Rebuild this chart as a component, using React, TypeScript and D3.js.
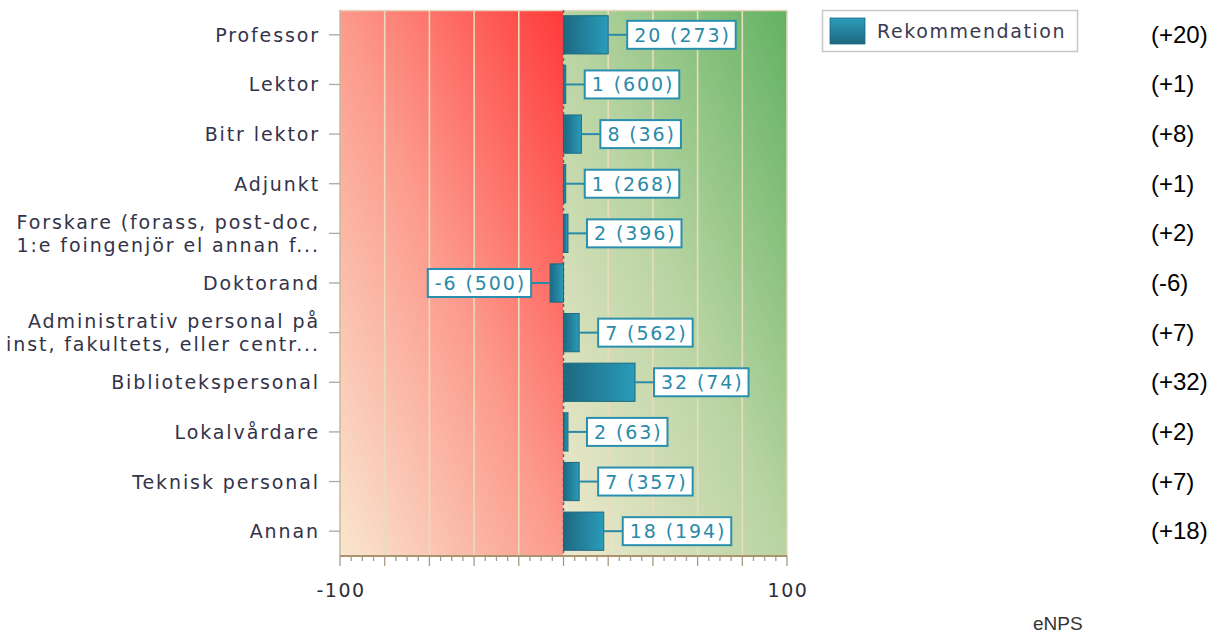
import React, { useEffect, useRef } from "react";
import * as d3 from "d3";

const categories = [
  "Professor",
  "Lektor",
  "Bitr lektor",
  "Adjunkt",
  "Forskare (forass, post-doc,|1:e foingenjör el annan f...",
  "Doktorand",
  "Administrativ personal på|inst, fakultets, eller centr...",
  "Bibliotekspersonal",
  "Lokalvårdare",
  "Teknisk personal",
  "Annan",
];
const values = [20, 1, 8, 1, 2, -6, 7, 32, 2, 7, 18];
const counts = [273, 600, 36, 268, 396, 500, 562, 74, 63, 357, 194];
const sideLabels = ["(+20)", "(+1)", "(+8)", "(+1)", "(+2)", "(-6)", "(+7)", "(+32)", "(+2)", "(+7)", "(+18)"];
const xTickLabels = [-100, 100];
const seriesName = "Rekommendation";
const axisTitle = "eNPS";

const W = 1216;
const H = 635;

export default function App() {
  const ref = useRef<SVGSVGElement>(null);

  useEffect(() => {
    const svg = d3.select(ref.current);
    svg.selectAll("*").remove();

    const x = d3.scaleLinear().domain([-100, 100]).range([340, 787]);
    const y = d3
      .scaleBand<string>()
      .domain(categories)
      .range([10, 556])
      .paddingInner(0.23)
      .paddingOuter(0.115);

    const defs = svg.append("defs");
    const gRed = defs
      .append("linearGradient")
      .attr("id", "gRed")
      .attr("x1", 0)
      .attr("y1", 1)
      .attr("x2", 1)
      .attr("y2", 0);
    gRed.append("stop").attr("offset", 0).attr("stop-color", "#f9e6d0");
    gRed.append("stop").attr("offset", 0.5).attr("stop-color", "#fc9a8c");
    gRed.append("stop").attr("offset", 1).attr("stop-color", "#ff3a3a");

    const gGreen = defs
      .append("linearGradient")
      .attr("id", "gGreen")
      .attr("x1", 0)
      .attr("y1", 1)
      .attr("x2", 1)
      .attr("y2", 0);
    gGreen.append("stop").attr("offset", 0).attr("stop-color", "#efe9ce");
    gGreen.append("stop").attr("offset", 0.5).attr("stop-color", "#b8d4a2");
    gGreen.append("stop").attr("offset", 1).attr("stop-color", "#62b262");

    const gBar = defs
      .append("linearGradient")
      .attr("id", "gBar")
      .attr("x1", 0)
      .attr("y1", 0)
      .attr("x2", 1)
      .attr("y2", 0);
    gBar.append("stop").attr("offset", 0).attr("stop-color", "#1e6880");
    gBar.append("stop").attr("offset", 1).attr("stop-color", "#2a9cba");

    const gLeg = defs
      .append("linearGradient")
      .attr("id", "gLeg")
      .attr("x1", 0)
      .attr("y1", 0)
      .attr("x2", 0)
      .attr("y2", 1);
    gLeg.append("stop").attr("offset", 0).attr("stop-color", "#2a9cba");
    gLeg.append("stop").attr("offset", 1).attr("stop-color", "#1e6880");

    const top = 10;
    const bottom = 556;

    svg
      .append("rect")
      .attr("x", x(-100))
      .attr("y", top)
      .attr("width", x(0) - x(-100))
      .attr("height", bottom - top)
      .attr("fill", "url(#gRed)");
    svg
      .append("rect")
      .attr("x", x(0))
      .attr("y", top)
      .attr("width", x(100) - x(0))
      .attr("height", bottom - top)
      .attr("fill", "url(#gGreen)");

    const majors = d3.range(-80, 100, 20).filter((d) => d !== 0);
    svg
      .append("g")
      .selectAll("line")
      .data(majors)
      .join("line")
      .attr("x1", (d) => x(d))
      .attr("x2", (d) => x(d))
      .attr("y1", top)
      .attr("y2", bottom)
      .attr("stroke", "#e9dcbc")
      .attr("stroke-width", 1.6);

    svg
      .append("line")
      .attr("x1", x(-100))
      .attr("x2", x(100))
      .attr("y1", top + 0.5)
      .attr("y2", top + 0.5)
      .attr("stroke", "#e6d8bc")
      .attr("stroke-width", 1.5);
    svg
      .append("line")
      .attr("x1", x(100))
      .attr("x2", x(100))
      .attr("y1", top)
      .attr("y2", bottom)
      .attr("stroke", "#e6d8bc")
      .attr("stroke-width", 1.5);
    svg
      .append("line")
      .attr("x1", x(-100))
      .attr("x2", x(-100))
      .attr("y1", top)
      .attr("y2", bottom)
      .attr("stroke", "#c8b898")
      .attr("stroke-width", 1.5);

    svg
      .append("line")
      .attr("x1", x(0))
      .attr("x2", x(0))
      .attr("y1", top)
      .attr("y2", bottom)
      .attr("stroke", "#4e6c7c")
      .attr("stroke-width", 1.5)
      .attr("stroke-dasharray", "3,3");

    const minorTicks = d3.range(-100, 101, 5);
    svg
      .append("g")
      .selectAll("line")
      .data(minorTicks)
      .join("line")
      .attr("x1", (d) => x(d))
      .attr("x2", (d) => x(d))
      .attr("y1", bottom)
      .attr("y2", (d) => (d % 20 === 0 ? bottom + 10 : bottom + 5))
      .attr("stroke", "#a89a86")
      .attr("stroke-width", 1.3);
    svg
      .append("line")
      .attr("x1", x(-100))
      .attr("x2", x(100))
      .attr("y1", bottom)
      .attr("y2", bottom)
      .attr("stroke", "#a8946e")
      .attr("stroke-width", 2);

    svg
      .append("g")
      .selectAll("text")
      .data(xTickLabels)
      .join("text")
      .attr("x", (d) => x(d) + 1)
      .attr("y", 597)
      .attr("text-anchor", "middle")
      .attr("font-family", "DejaVu Sans")
      .attr("font-size", 19)
      .attr("letter-spacing", 1.5)
      .attr("fill", "#2e2e3a")
      .text((d) => String(d));

    svg
      .append("g")
      .selectAll("line")
      .data(categories)
      .join("line")
      .attr("x1", 329)
      .attr("x2", x(-100))
      .attr("y1", (d) => y(d)! + y.bandwidth() / 2)
      .attr("y2", (d) => y(d)! + y.bandwidth() / 2)
      .attr("stroke", "#a8a8a8")
      .attr("stroke-width", 1.3);

    const ylab = svg.append("g");
    categories.forEach((c) => {
      const lines = c.split("|");
      const cy = y(c)! + y.bandwidth() / 2;
      lines.forEach((ln, i) => {
        const off = lines.length === 1 ? 0 : (i - 0.5) * 23;
        ylab
          .append("text")
          .attr("x", 320)
          .attr("y", cy + off + 7)
          .attr("text-anchor", "end")
          .attr("font-family", "DejaVu Sans")
          .attr("font-size", 19)
          .attr("letter-spacing", 1.9)
          .attr("fill", "#33334a")
          .text(ln);
      });
    });

    const data = categories.map((c, i) => ({ c, v: values[i], n: counts[i], s: sideLabels[i] }));
    svg
      .append("g")
      .selectAll("rect")
      .data(data)
      .join("rect")
      .attr("x", (d) => Math.min(x(0), x(d.v)))
      .attr("y", (d) => y(d.c)!)
      .attr("width", (d) => Math.max(2, Math.abs(x(d.v) - x(0))))
      .attr("height", y.bandwidth())
      .attr("fill", "url(#gBar)")
      .attr("stroke", "#1c6a80")
      .attr("stroke-width", 1);

    const lab = svg.append("g");
    data.forEach((d) => {
      const cy = y(d.c)! + y.bandwidth() / 2;
      const end = x(d.v);
      const pos = d.v >= 0;
      const g = lab.append("g");
      const t = g
        .append("text")
        .attr("font-family", "DejaVu Sans")
        .attr("font-size", 19)
        .attr("letter-spacing", 1.9)
        .attr("fill", "#2a8aa8")
        .attr("y", cy + 7)
        .text(`${d.v} (${d.n})`);
      const tw = (t.node() as SVGTextElement).getComputedTextLength();
      const bw = tw + 12;
      const gap = 19;
      const bx = pos ? Math.max(end, x(0) + 1) + gap : end - gap - bw;
      t.attr("x", bx + 7);
      g.insert("line", "text")
        .attr("x1", pos ? Math.max(end, x(0) + 1) : end)
        .attr("x2", pos ? bx : bx + bw)
        .attr("y1", cy)
        .attr("y2", cy)
        .attr("stroke", "#2a8aa8")
        .attr("stroke-width", 2);
      g.insert("rect", "text")
        .attr("x", bx)
        .attr("y", cy - 14)
        .attr("width", bw)
        .attr("height", 28)
        .attr("fill", "#ffffff")
        .attr("stroke", "#2a8fae")
        .attr("stroke-width", 2);
    });

    svg
      .append("g")
      .selectAll("text")
      .data(data)
      .join("text")
      .attr("x", 1151)
      .attr("y", (d) => y(d.c)! + y.bandwidth() / 2 + 8)
      .attr("font-family", "Liberation Sans, Arial, sans-serif")
      .attr("font-size", 24)
      .attr("fill", "#000")
      .text((d) => d.s);

    const leg = svg.append("g");
    leg
      .append("rect")
      .attr("x", 822.5)
      .attr("y", 10.5)
      .attr("width", 255)
      .attr("height", 41)
      .attr("fill", "#fff")
      .attr("stroke", "#c8c8c8")
      .attr("stroke-width", 1.5);
    leg
      .append("rect")
      .attr("x", 830)
      .attr("y", 18)
      .attr("width", 35)
      .attr("height", 26)
      .attr("fill", "url(#gLeg)")
      .attr("stroke", "#1c6a80")
      .attr("stroke-width", 0.8);
    leg
      .append("text")
      .attr("x", 877)
      .attr("y", 38)
      .attr("font-family", "DejaVu Sans")
      .attr("font-size", 19)
      .attr("letter-spacing", 1.6)
      .attr("fill", "#3a3a4e")
      .text(seriesName);

    svg
      .append("text")
      .attr("x", 1033)
      .attr("y", 630)
      .attr("font-family", "Liberation Sans, Arial, sans-serif")
      .attr("font-size", 19)
      .attr("fill", "#333")
      .text(axisTitle);
  }, []);

  return (
    <svg
      ref={ref}
      width={W}
      height={H}
      style={{ position: "absolute", left: 0, top: 0, background: "#fff" }}
    />
  );
}
